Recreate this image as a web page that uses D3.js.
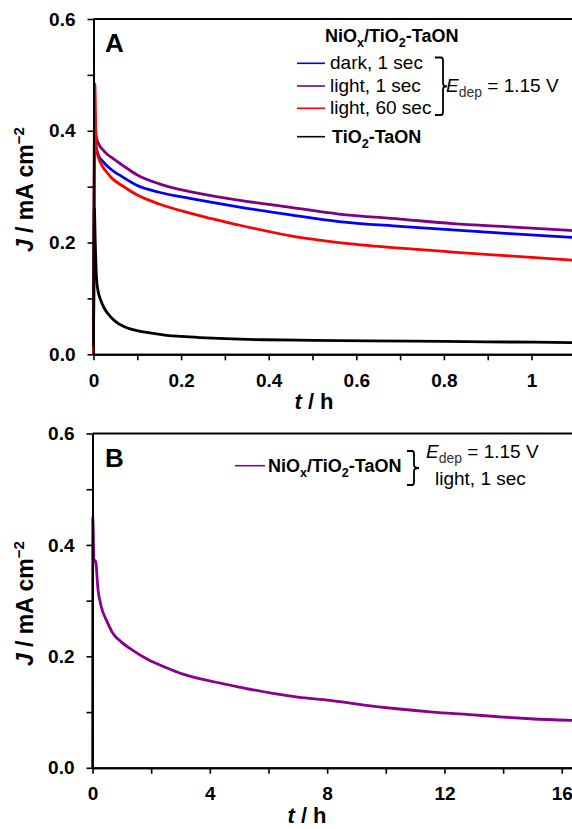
<!DOCTYPE html>
<html>
<head>
<meta charset="utf-8">
<script src="https://cdn.jsdelivr.net/npm/d3@7"></script>
<style>
  body { margin: 0; background: #fff; }
  text { font-family: "Liberation Sans", Arial, sans-serif; fill: #000; }
</style>
</head>
<body>
<div id="chart-area"></div>
<script>
// panel A: current density (mA cm-2) vs time (h)
var timeA = [0, 0.003, 0.006, 0.012, 0.02, 0.03, 0.045, 0.065, 0.1, 0.15, 0.22, 0.33, 0.45, 0.56, 0.7, 0.82, 0.95, 1.1];
var darkJ = [0, 0.385, 0.37, 0.355, 0.346, 0.338, 0.328, 0.318, 0.302, 0.29, 0.279, 0.264, 0.2495, 0.2375, 0.229, 0.2226, 0.216, 0.209];
var light1J = [0, 0.414, 0.39, 0.376, 0.367, 0.359, 0.35, 0.339, 0.321, 0.305, 0.291, 0.276, 0.263, 0.251, 0.242, 0.234, 0.228, 0.221];
var light60J = [0, 0.484, 0.37, 0.35, 0.337, 0.326, 0.313, 0.302, 0.285, 0.269, 0.2525, 0.2316, 0.212, 0.2, 0.19, 0.183, 0.176, 0.168];
var timeTiO2 = [0, 0.002, 0.004, 0.007, 0.01, 0.015, 0.025, 0.038, 0.05, 0.068, 0.09, 0.114, 0.14, 0.167, 0.2, 0.243, 0.3, 0.39, 0.5, 0.63, 0.8, 0.95, 1.1];
var tio2J = [0.015, 0.262, 0.2, 0.135, 0.115, 0.1, 0.082, 0.068, 0.059, 0.05, 0.044, 0.04, 0.037, 0.034, 0.032, 0.03, 0.028, 0.026, 0.025, 0.024, 0.023, 0.022, 0.021];

// panel B: long run, light 1 sec
var timeB = [0, 0.01, 0.05, 0.1, 0.19, 0.3, 0.5, 0.7, 0.98, 1.4, 1.89, 2.5, 3.03, 4.17, 5, 6.1, 7, 8.1, 9.2, 10.37, 11.6, 12.87, 14, 14.92, 16.35];
var longJ = [0, 0.45, 0.37, 0.372, 0.319, 0.289, 0.262, 0.241, 0.226, 0.21, 0.1944, 0.18, 0.169, 0.154, 0.145, 0.134, 0.127, 0.121, 0.113, 0.106, 0.1, 0.0955, 0.091, 0.088, 0.085];

var yTicks = [0, 0.2, 0.4, 0.6];
var yMinor = [0.1, 0.3, 0.5];
var xTicksA = [0, 0.2, 0.4, 0.6, 0.8, 1];
var xMinorA = [0.1, 0.3, 0.5, 0.7, 0.9];
var xTicksB = [0, 4, 8, 12, 16];
var xMinorB = [2, 6, 10, 14];

var svg = d3.select("#chart-area").append("svg").attr("width", 572).attr("height", 829);

function zip(t, j) {
    return t.map((d, i) => ({t: d, j: j[i]}));
}

function panel(opt) {
    var x = d3.scaleLinear().domain(opt.xDomain).range([opt.left, opt.right]);
    var y = d3.scaleLinear().domain([0, 0.6]).range([opt.bottom, opt.top]);
    var g = svg.append("g");

    var line = d3.line().x(d => x(d.t)).y(d => y(d.j)).curve(d3.curveMonotoneX);
    opt.series.forEach(s => {
        g.append("path")
            .datum(zip(s.t, s.j))
            .attr("d", line)
            .attr("fill", "none")
            .attr("stroke", s.color)
            .attr("stroke-width", 2.8)
            .attr("stroke-linejoin", "round");
    });

    // top frame
    g.append("line")
        .attr("x1", opt.left).attr("x2", 572)
        .attr("y1", y(0.6)).attr("y2", y(0.6))
        .attr("stroke", "#000").attr("stroke-width", 2);

    g.append("g").attr("transform", "translate(0," + opt.bottom + ")")
        .call(d3.axisBottom(x).tickValues(opt.xTicks).tickSize(6).tickSizeOuter(0).tickPadding(13)
            .tickFormat(d => d3.format("")(d)));
    g.append("g").attr("transform", "translate(0," + opt.bottom + ")")
        .call(d3.axisBottom(x).tickValues(opt.xMinor).tickSize(6).tickSizeOuter(0).tickFormat(""));
    g.append("g").attr("transform", "translate(" + opt.left + ",0)")
        .call(d3.axisLeft(y).tickValues(yTicks).tickSize(6).tickSizeOuter(0).tickPadding(12)
            .tickFormat(d3.format(".1f")));
    g.append("g").attr("transform", "translate(" + opt.left + ",0)")
        .call(d3.axisLeft(y).tickValues(yMinor).tickSize(6).tickSizeOuter(0).tickFormat(""));

    g.selectAll(".domain").attr("stroke-width", 2);
    g.selectAll(".tick line").attr("stroke-width", 1.6);
    g.selectAll(".tick text")
        .attr("font-family", "Liberation Sans, Arial, sans-serif")
        .attr("font-size", 19).attr("font-weight", "bold");

    // axis titles
    var xt = g.append("text")
        .attr("x", opt.xTitleX).attr("y", opt.bottom + 55)
        .attr("text-anchor", "middle")
        .attr("font-size", 22).attr("font-weight", "bold");
    xt.append("tspan").attr("font-style", "italic").text("t");
    xt.append("tspan").text(" / h");

    var cy = (opt.top + opt.bottom) / 2 + 3;
    var yt = g.append("text")
        .attr("transform", "translate(33," + cy + ") rotate(-90)")
        .attr("text-anchor", "middle")
        .attr("font-size", 23).attr("font-weight", "bold");
    yt.append("tspan").attr("font-style", "italic").text("J");
    yt.append("tspan").text(" / mA cm");
    yt.append("tspan").attr("font-size", 15).attr("dy", -9).text("\u22122");

    g.append("text")
        .attr("x", 105).attr("y", opt.top + 33)
        .attr("font-size", 26).attr("font-weight", "bold")
        .text(opt.letter);

    return g;
}

// NiOx/TiO2-TaON label with subscripts
function sampleLabel(sel, x, yb, size) {
    var t = sel.append("text").attr("x", x).attr("y", yb)
        .attr("font-size", size).attr("font-weight", "bold");
    t.append("tspan").text("NiO");
    t.append("tspan").attr("font-size", size * 0.7).attr("dy", 5).text("x");
    t.append("tspan").attr("dy", -5).text("/TiO");
    t.append("tspan").attr("font-size", size * 0.7).attr("dy", 5).text("2");
    t.append("tspan").attr("dy", -5).text("-TaON");
    return t;
}

function edepLabel(sel, x, yb) {
    var t = sel.append("text").attr("x", x).attr("y", yb).attr("font-size", 19);
    t.append("tspan").attr("font-style", "italic").text("E");
    t.append("tspan").attr("font-size", 14).attr("dy", 5).attr("fill", "#333").text("dep");
    t.append("tspan").attr("dy", -5).text(" = 1.15 V");
}

function brace(sel, xl, xr, y0, y1, tip) {
    var ym = (y0 + y1) / 2;
    sel.append("path")
        .attr("d", "M" + xl + "," + y0 + " L" + (xr - 2) + "," + y0 + " Q" + xr + "," + y0 + " " + xr + "," + (y0 + 3) +
            " L" + xr + "," + (ym - 3) + " Q" + xr + "," + ym + " " + tip + "," + ym +
            " Q" + xr + "," + ym + " " + xr + "," + (ym + 3) +
            " L" + xr + "," + (y1 - 3) + " Q" + xr + "," + y1 + " " + (xr - 2) + "," + y1 + " L" + xl + "," + y1)
        .attr("fill", "none").attr("stroke", "#000").attr("stroke-width", 1.8);
}

panel({
    letter: "A", left: 93.5, right: 575.3, top: 19, bottom: 354.3,
    xDomain: [0, 1.1], xTicks: xTicksA, xMinor: xMinorA, xTitleX: 314,
    series: [
        {t: timeA, j: darkJ, color: "#0000ff"},
        {t: timeA, j: light1J, color: "#800080"},
        {t: timeA, j: light60J, color: "#ff0000"},
        {t: timeTiO2, j: tio2J, color: "#000000"}
    ]
});

panel({
    letter: "B", left: 92.5, right: 573.5, top: 433.5, bottom: 767.8,
    xDomain: [0, 16.4], xTicks: xTicksB, xMinor: xMinorB, xTitleX: 307,
    series: [
        {t: timeB, j: longJ, color: "#8b008b"}
    ]
});

// legend A
var legA = svg.append("g");
sampleLabel(legA, 325, 42, 18);
var legRows = [
    {label: "dark, 1 sec", color: "#0000ff", y: 63.3},
    {label: "light, 1 sec", color: "#800080", y: 86},
    {label: "light, 60 sec", color: "#ff0000", y: 108.3}
];
legRows.forEach(r => {
    legA.append("line").attr("x1", 297).attr("x2", 325).attr("y1", r.y).attr("y2", r.y)
        .attr("stroke", r.color).attr("stroke-width", 1.6);
    legA.append("text").attr("x", 330).attr("y", r.y + 5.5).attr("font-size", 19).text(r.label);
});
legA.append("line").attr("x1", 297).attr("x2", 325).attr("y1", 136.7).attr("y2", 136.7)
    .attr("stroke", "#000").attr("stroke-width", 1.6);
var tl = legA.append("text").attr("x", 332).attr("y", 142.7).attr("font-size", 18).attr("font-weight", "bold");
tl.append("tspan").text("TiO");
tl.append("tspan").attr("font-size", 12.6).attr("dy", 5).text("2");
tl.append("tspan").attr("dy", -5).text("-TaON");
brace(legA, 435, 443, 57.5, 115, 447);
edepLabel(legA, 446, 92);

// legend B
var legB = svg.append("g");
legB.append("line").attr("x1", 235).attr("x2", 265).attr("y1", 465.7).attr("y2", 465.7)
    .attr("stroke", "#8b008b").attr("stroke-width", 1.6);
sampleLabel(legB, 268, 471.7, 18);
brace(legB, 407, 414, 451, 485, 419);
edepLabel(legB, 426, 458);
legB.append("text").attr("x", 435).attr("y", 485).attr("font-size", 19).text("light, 1 sec");
</script>
</body>
</html>
